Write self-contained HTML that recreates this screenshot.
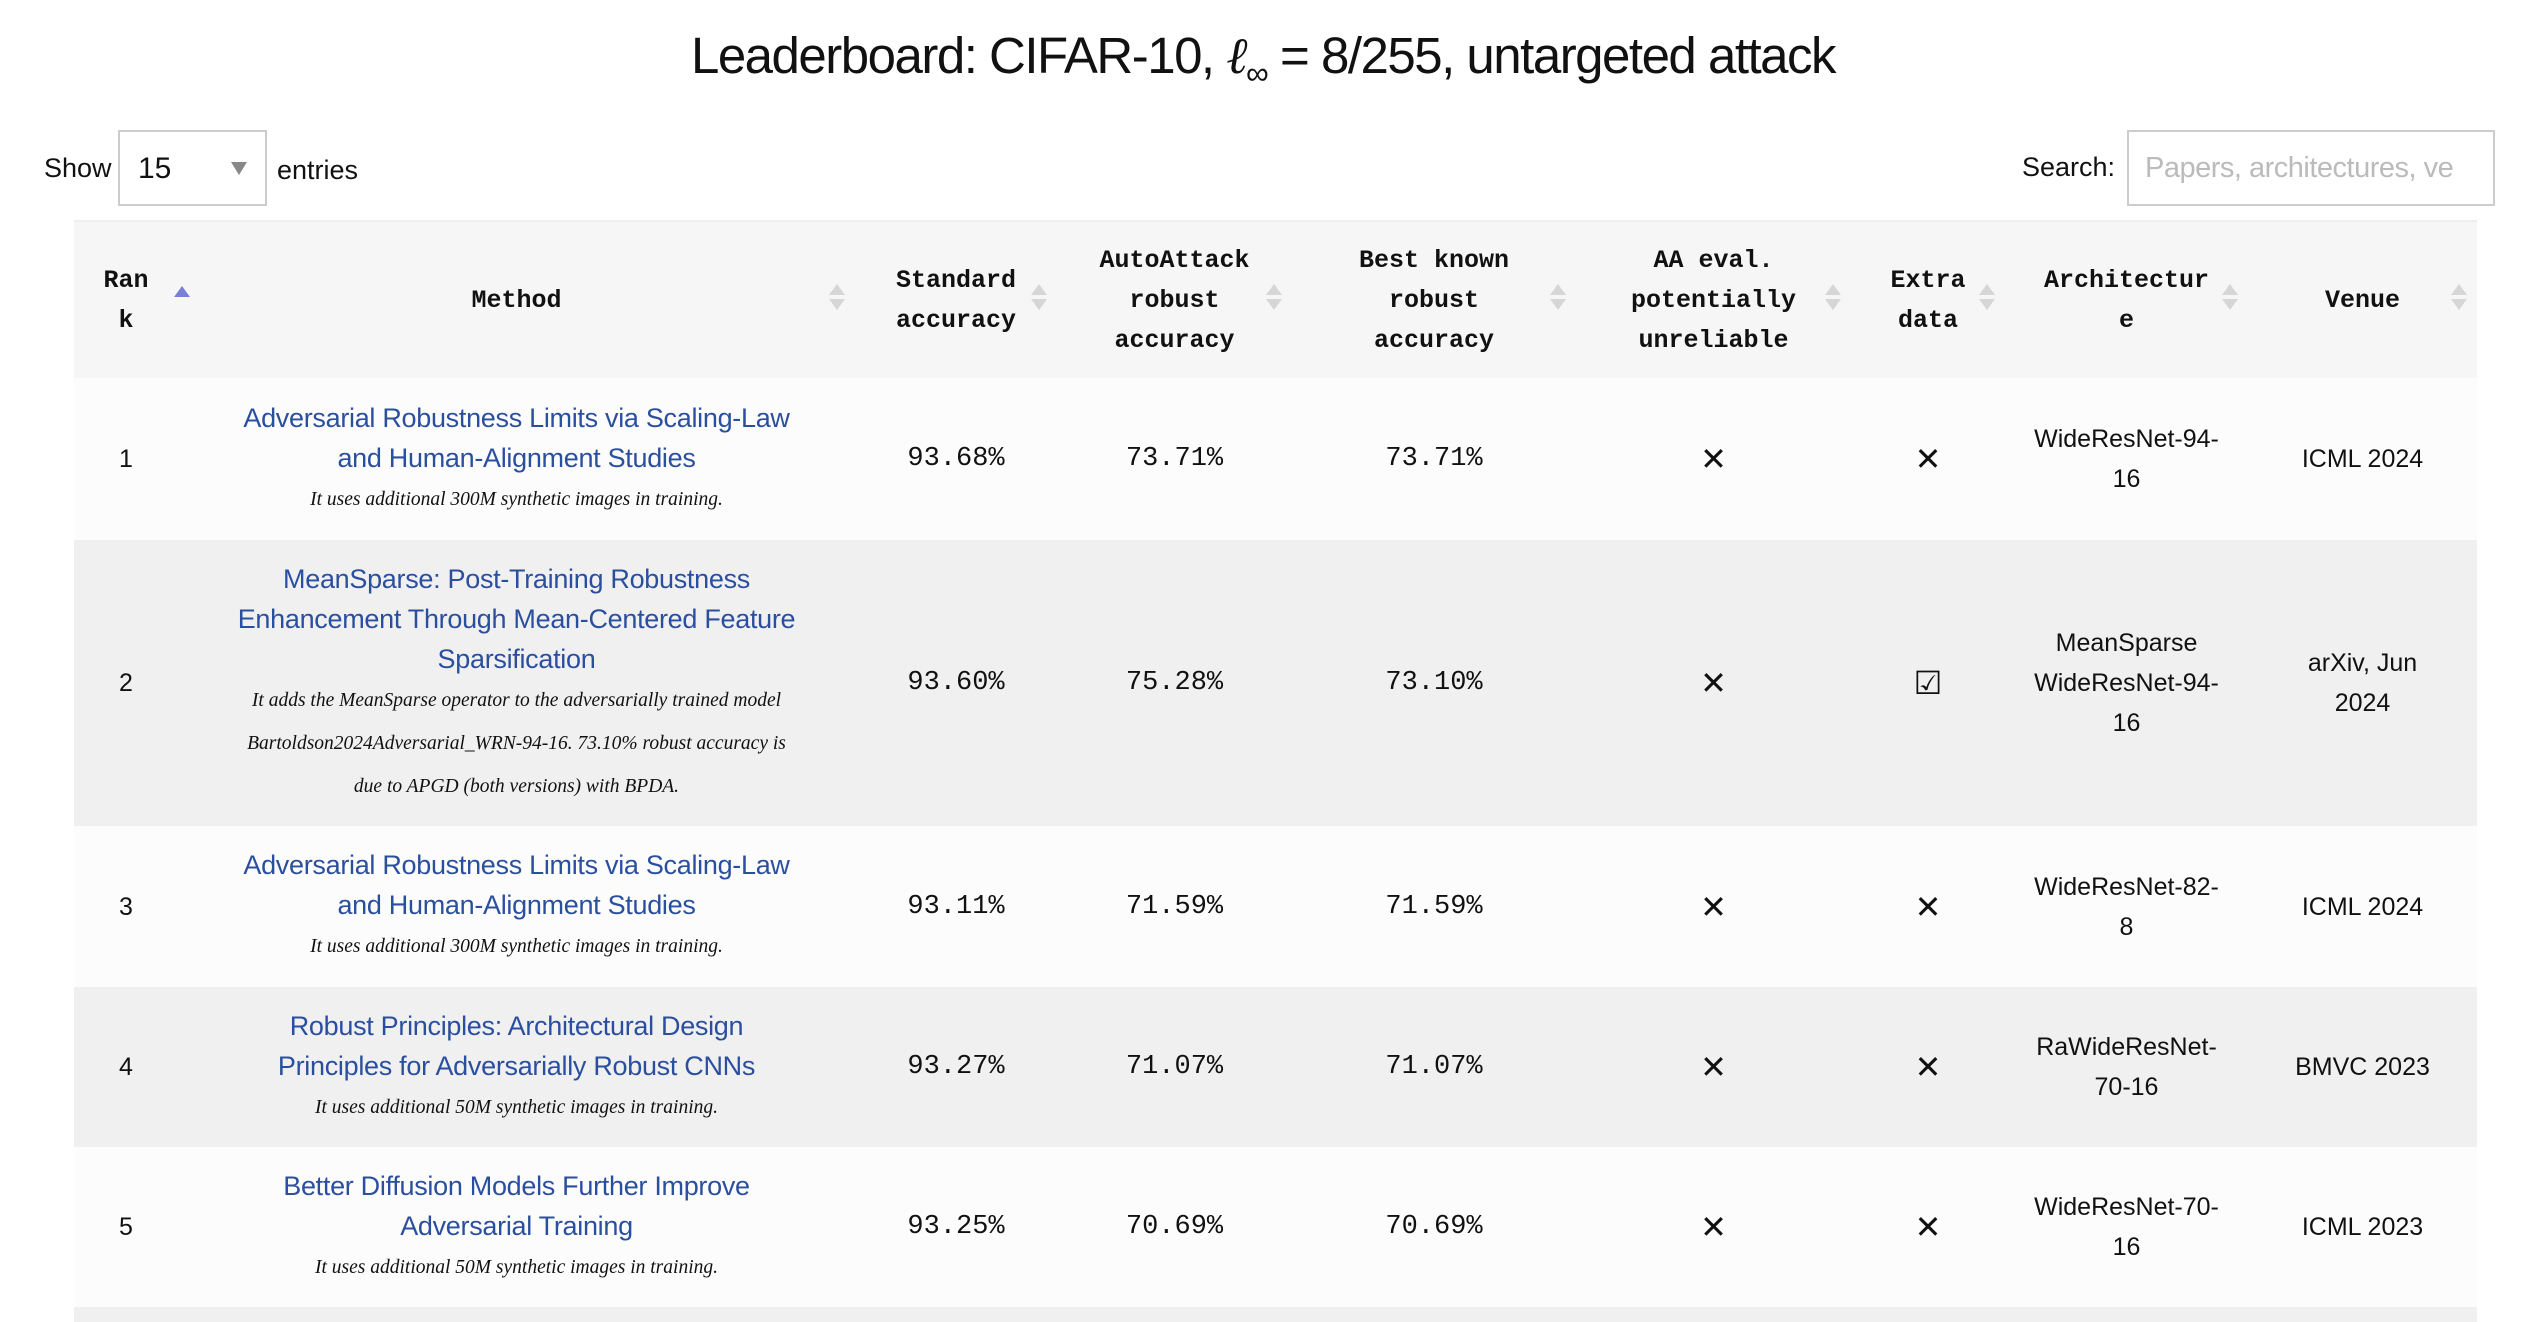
<!DOCTYPE html>
<html><head><meta charset="utf-8"><style>
body{margin:0;width:2526px;height:1322px;overflow:hidden;background:#fff;font-family:"Liberation Sans",sans-serif;color:#111;position:relative}
.title{position:absolute;top:26px;left:0;width:2526px;text-align:center;font-size:51px;font-family:"Liberation Sans",sans-serif;letter-spacing:-1.5px}
.title i{font-family:"Liberation Serif",serif}
.show{position:absolute;left:44px;top:153px;font-size:27px}
.sel{position:absolute;left:118px;top:130px;width:149px;height:76px;border:2px solid #ccc;box-sizing:border-box;font-size:30px;padding:20px 0 0 18px}
.sel:after{content:"";position:absolute;right:18px;top:30px;border-left:8px solid transparent;border-right:8px solid transparent;border-top:13px solid #888}
.entries{position:absolute;left:277px;top:155px;font-size:27px}
.slabel{position:absolute;left:2022px;top:152px;font-size:27px}
.inp{position:absolute;left:2127px;top:130px;width:368px;height:76px;border:2px solid #ccc;box-sizing:border-box;font-size:29px;color:#bbb;padding:20px 0 0 16px;white-space:nowrap;overflow:hidden;letter-spacing:-0.5px}
.row{position:absolute;left:74px;width:2403px;display:flex}
.c{display:flex;align-items:center;justify-content:center;text-align:center;box-sizing:border-box;position:relative;white-space:nowrap}
.hd{top:220px;height:158px;background:#f6f6f6;border-top:2px solid #eee;border-bottom:3px solid #eee}
.hd .c{font-family:"Liberation Mono",monospace;font-weight:bold;font-size:25px;line-height:40px}
.hd .c:after{content:"";position:absolute;right:10px;top:62px;width:0;height:0;border-left:8px solid transparent;border-right:8px solid transparent;border-bottom:11px solid #d6d6d6}
.hd .c:before{content:"";position:absolute;right:10px;top:77px;width:0;height:0;border-left:8px solid transparent;border-right:8px solid transparent;border-top:11px solid #d6d6d6}
.hd .c.r:after{border-bottom-color:#7a7fd6;right:auto;left:100px;top:64px}
.hd .c.r:before{display:none}
.w0{width:104px}.w1{width:677px}.w2{width:202px}.w3{width:235px}.w4{width:284px}.w5{width:275px}.w6{width:154px}.w7{width:243px}.w8{width:229px}
.m{flex-direction:column}
.a{color:#2b4f9f;font-size:27px;line-height:40px;letter-spacing:-0.3px}
.n{font-style:italic;font-size:19.5px;line-height:43px;font-family:"Liberation Serif",serif}
.num{font-family:"Liberation Mono",monospace;font-size:27px}
.t{font-size:25px;line-height:40px}
.x{font-size:32px}
</style></head><body>
<div class="title">Leaderboard: CIFAR-10, <i>ℓ</i><sub style="font-size:32px">∞</sub> = 8/255, untargeted attack</div>
<div class="show">Show</div><div class="sel">15</div><div class="entries">entries</div>
<div class="slabel">Search:</div><div class="inp">Papers, architectures, ve</div>

<div class="row hd">
<div class="c w0 r">Ran<br>k</div><div class="c w1">Method</div><div class="c w2">Standard<br>accuracy</div><div class="c w3">AutoAttack<br>robust<br>accuracy</div><div class="c w4">Best known<br>robust<br>accuracy</div><div class="c w5">AA eval.<br>potentially<br>unreliable</div><div class="c w6">Extra<br>data</div><div class="c w7">Architectur<br>e</div><div class="c w8">Venue</div>
</div>

<div class="row" style="top:378px;height:162px;background:#fcfcfc">
<div class="c w0 t">1</div><div class="c w1 m"><div class="a">Adversarial Robustness Limits via Scaling-Law<br>and Human-Alignment Studies</div><div class="n">It uses additional 300M synthetic images in training.</div></div>
<div class="c w2 num">93.68%</div><div class="c w3 num">73.71%</div><div class="c w4 num">73.71%</div><div class="c w5 x">✕</div><div class="c w6 x">✕</div><div class="c w7 t">WideResNet-94-<br>16</div><div class="c w8 t">ICML 2024</div>
</div>

<div class="row" style="top:540px;height:286px;background:#f0f0f0">
<div class="c w0 t">2</div><div class="c w1 m"><div class="a">MeanSparse: Post-Training Robustness<br>Enhancement Through Mean-Centered Feature<br>Sparsification</div><div class="n">It adds the MeanSparse operator to the adversarially trained model<br>Bartoldson2024Adversarial_WRN-94-16. 73.10% robust accuracy is<br>due to APGD (both versions) with BPDA.</div></div>
<div class="c w2 num">93.60%</div><div class="c w3 num">75.28%</div><div class="c w4 num">73.10%</div><div class="c w5 x">✕</div><div class="c w6 x">☑</div><div class="c w7 t">MeanSparse<br>WideResNet-94-<br>16</div><div class="c w8 t">arXiv, Jun<br>2024</div>
</div>

<div class="row" style="top:826px;height:161px;background:#fcfcfc">
<div class="c w0 t">3</div><div class="c w1 m"><div class="a">Adversarial Robustness Limits via Scaling-Law<br>and Human-Alignment Studies</div><div class="n">It uses additional 300M synthetic images in training.</div></div>
<div class="c w2 num">93.11%</div><div class="c w3 num">71.59%</div><div class="c w4 num">71.59%</div><div class="c w5 x">✕</div><div class="c w6 x">✕</div><div class="c w7 t">WideResNet-82-<br>8</div><div class="c w8 t">ICML 2024</div>
</div>

<div class="row" style="top:987px;height:160px;background:#f0f0f0">
<div class="c w0 t">4</div><div class="c w1 m"><div class="a">Robust Principles: Architectural Design<br>Principles for Adversarially Robust CNNs</div><div class="n">It uses additional 50M synthetic images in training.</div></div>
<div class="c w2 num">93.27%</div><div class="c w3 num">71.07%</div><div class="c w4 num">71.07%</div><div class="c w5 x">✕</div><div class="c w6 x">✕</div><div class="c w7 t">RaWideResNet-<br>70-16</div><div class="c w8 t">BMVC 2023</div>
</div>

<div class="row" style="top:1147px;height:160px;background:#fcfcfc">
<div class="c w0 t">5</div><div class="c w1 m"><div class="a">Better Diffusion Models Further Improve<br>Adversarial Training</div><div class="n">It uses additional 50M synthetic images in training.</div></div>
<div class="c w2 num">93.25%</div><div class="c w3 num">70.69%</div><div class="c w4 num">70.69%</div><div class="c w5 x">✕</div><div class="c w6 x">✕</div><div class="c w7 t">WideResNet-70-<br>16</div><div class="c w8 t">ICML 2023</div>
</div>

<div class="row" style="top:1307px;height:15px;background:#f0f0f0"></div>
</body></html>
